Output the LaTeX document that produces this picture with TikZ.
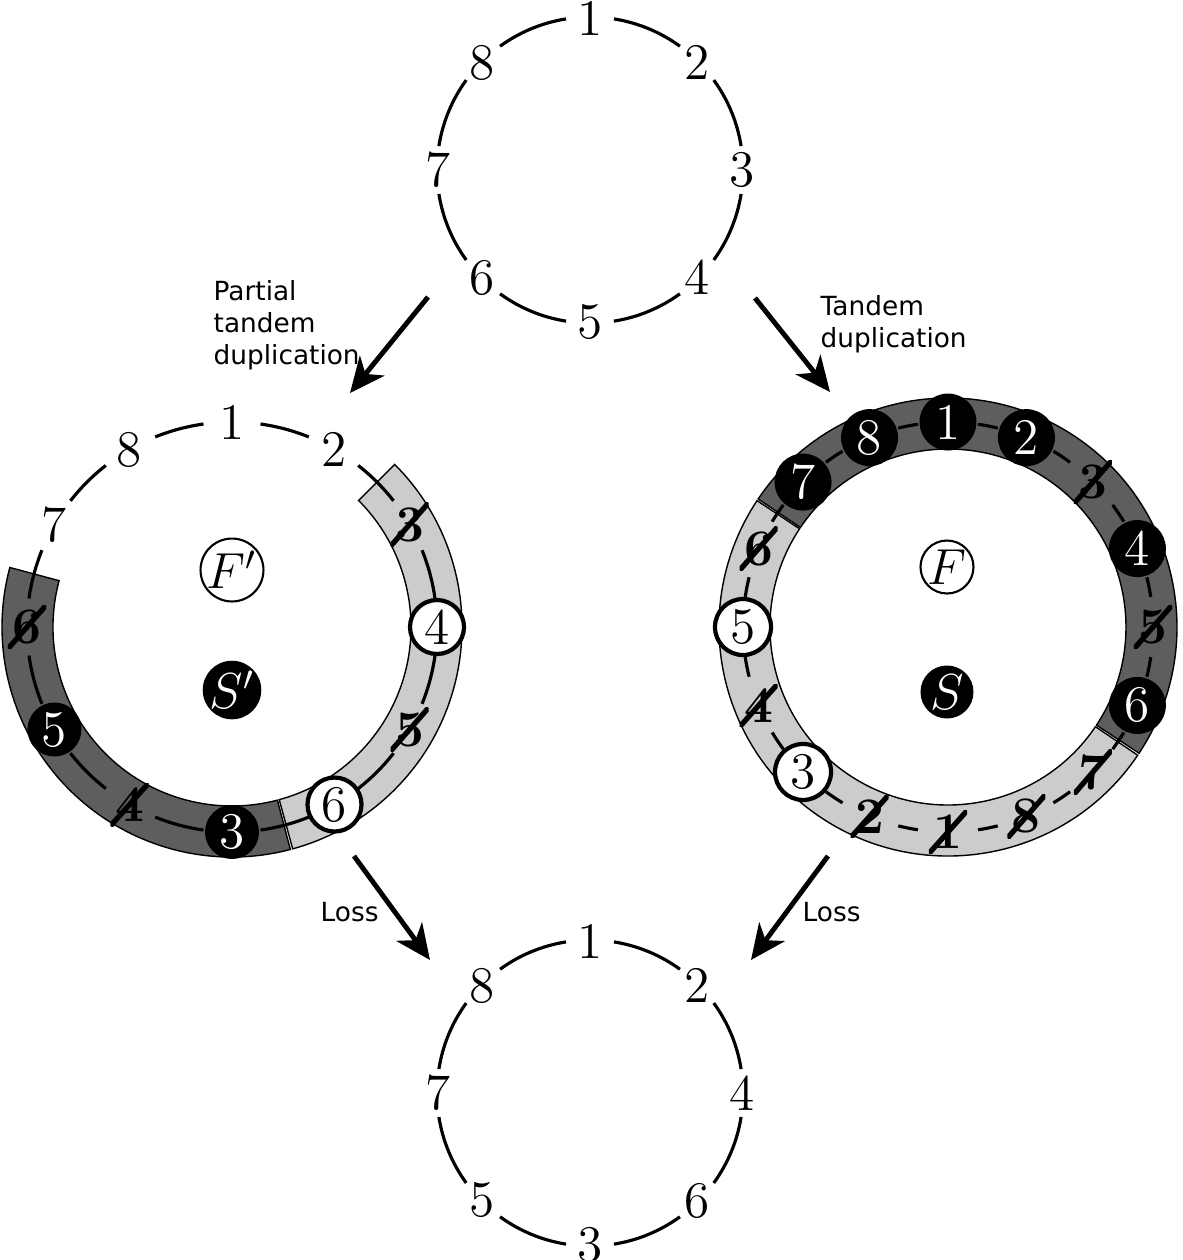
\documentclass[tikz,border=0pt]{standalone}
\usepackage{fontspec}
\newfontfamily\notefont{DejaVu Sans}
\usetikzlibrary{arrows.meta}

\begin{document}
\begin{tikzpicture}[
	% Define styles for the genes and the steps
	gene/.style={inner sep=0pt, font=\fontsize{14.6}{17}\selectfont},
	lost/.style={gene, inner sep=1.3pt, font=\fontsize{14.6}{17}\selectfont\bfseries,
		path picture={\draw[line width=1.5pt] (path picture bounding box.south west) -- (path picture bounding box.north east);}},
	sgene/.style={gene, circle, fill=black, text=white, minimum size=5.4mm},
	fgene/.style={gene, circle, draw=black, line width=1.2pt, fill=white, minimum size=5.4mm},
	chrom/.style={line width=0.9pt},
	band/.style={draw=black, line width=0.4pt},
	note/.style={inner sep=0pt, align=left, font=\notefont\fontsize{7.5}{9}\selectfont},
	event/.style={line width=1.4pt, -{Stealth[length=10pt, width=9pt, inset=3pt]}}
	]
	\useasboundingbox (0,0) rectangle (11.83,-12.60);
	
	% Centres of the four genomes
	\coordinate (top) at (5.90,-1.70);
	\coordinate (ptd) at (2.32,-6.27);
	\coordinate (td) at (9.48,-6.27);
	\coordinate (bot) at (5.90,-10.93);
	
	% --- Bands ---
	\draw[band, fill=black!20] ([shift={(45:2.30)}]ptd) arc[start angle=45, end angle=-74.7, radius=2.30]
		-- ([shift={(-74.7:1.79)}]ptd) arc[start angle=-74.7, end angle=45, radius=1.79] -- cycle;
	\draw[band, fill=black!63] ([shift={(-75.3:2.30)}]ptd) arc[start angle=-75.3, end angle=-195, radius=2.30]
		-- ([shift={(-195:1.79)}]ptd) arc[start angle=-195, end angle=-75.3, radius=1.79] -- cycle;
	\draw[band, fill=black!63] ([shift={(146:2.29)}]td) arc[start angle=146, end angle=-33.45, radius=2.29]
		-- ([shift={(-33.45:1.78)}]td) arc[start angle=-33.45, end angle=146, radius=1.78] -- cycle;
	\draw[band, fill=black!20] ([shift={(-34.05:2.29)}]td) arc[start angle=-34.05, end angle=-213.5, radius=2.29]
		-- ([shift={(-213.5:1.78)}]td) arc[start angle=-213.5, end angle=-34.05, radius=1.78] -- cycle;
	
	% --- Chromosome arcs ---
	\foreach \i in {0,...,7} {
		\draw[chrom] ([shift={({81-45*\i}:1.53)}]top) arc[start angle={81-45*\i}, end angle={54-45*\i}, radius=1.53];
		\draw[chrom] ([shift={({81-45*\i}:1.53)}]bot) arc[start angle={81-45*\i}, end angle={54-45*\i}, radius=1.53];
	}
	\foreach \i in {0,...,11}
		\draw[chrom] ([shift={({82-30*\i}:2.05)}]ptd) arc[start angle={82-30*\i}, end angle={68-30*\i}, radius=2.05];
	% one dash between two genes
	\foreach \i in {0,...,15}
		\draw[chrom] ([shift={({81.55-22.5*\i}:2.05)}]td) arc[start angle={81.55-22.5*\i}, end angle={75.95-22.5*\i}, radius=2.05];
	
	% --- Genes ---
	\foreach \n [count=\i from 0] in {1,2,3,4,5,6,7,8}
		\node[gene] (top-\i) at ([shift={({90-45*\i}:1.52)}]top) {\n};
	\foreach \n [count=\i from 0] in {1,2,4,6,3,5,7,8}
		\node[gene] (bot-\i) at ([shift={({90-45*\i}:1.52)}]bot) {\n};
	\foreach \n/\s [count=\i from 0] in {1/gene,2/gene,3/lost,4/fgene,5/lost,6/fgene,3/sgene,4/lost,5/sgene,6/lost,7/gene,8/gene}
		\node[\s] (ptd-\i) at ([shift={({90-30*\i}:2.05)}]ptd) {\n};
	\begin{scope}[sgene/.append style={minimum size=5.7mm}, fgene/.append style={minimum size=5.6mm}]
	\foreach \n/\s [count=\i from 0] in {1/sgene,2/sgene,3/lost,4/sgene,5/lost,6/sgene,7/lost,8/lost,1/lost,2/lost,3/fgene,4/lost,5/fgene,6/lost,7/sgene,8/sgene}
		\node[\s] (td-\i) at ([shift={({90-22.5*\i}:2.05)}]td) {\n};
	\end{scope}
	
	% Gene sets
	\node[gene, circle, draw, line width=0.6pt, minimum size=5.6mm] (Fp) at (2.32,-5.70) {$F'$};
	\node[sgene, minimum size=5.8mm] (Sp) at (2.32,-6.90) {$S'$};
	\node[gene, circle, draw, line width=0.6pt, minimum size=5.3mm] (F) at (9.47,-5.67) {$F$};
	\node[sgene, minimum size=5.3mm] (S) at (9.47,-6.92) {$S$};
	
	% --- Steps ---
	\coordinate (ptdFrom) at (4.28,-2.97);
	\coordinate (ptdTo) at (3.50,-3.93);
	\coordinate (tdFrom) at (7.55,-2.98);
	\coordinate (tdTo) at (8.30,-3.92);
	\coordinate (lossAFrom) at (3.54,-8.56);
	\coordinate (lossATo) at (4.30,-9.60);
	\coordinate (lossBFrom) at (8.28,-8.56);
	\coordinate (lossBTo) at (7.51,-9.60);
	\draw[event] (ptdFrom) -- (ptdTo);
	\draw[event] (tdFrom) -- (tdTo);
	\draw[event] (lossAFrom) -- (lossATo);
	\draw[event] (lossBFrom) -- (lossBTo);
	
	\node[note, anchor=north west] (ptdNote) at (2.13,-2.80) {Partial\\tandem\\duplication};
	\node[note, anchor=north west] (tdNote) at (8.20,-2.95) {Tandem\\duplication};
	\node[note, anchor=west] (lossANote) at (3.20,-9.12) {Loss};
	\node[note, anchor=west] (lossBNote) at (8.02,-9.12) {Loss};
\end{tikzpicture}
\end{document}
